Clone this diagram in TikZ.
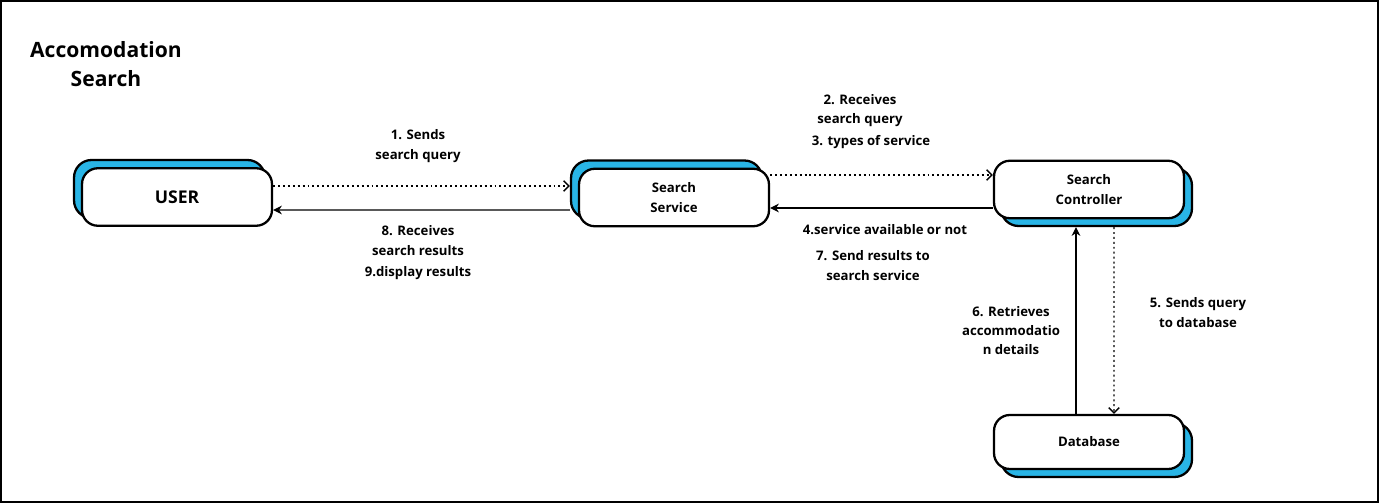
\documentclass[tikz,border=0pt]{standalone}
\usepackage{fontspec}
\setmainfont{Open Sans}
\usepackage{tikz}
\usetikzlibrary{positioning,arrows.meta,calc}
\definecolor{cblue}{HTML}{29B5E6}
\tikzset{
  bluebox/.style={draw=black, line width=1.3pt, fill=cblue, rounded corners=10pt,
    minimum width=3.82cm, minimum height=1.16cm, inner sep=0pt},
  whitebox/.style={draw=black, line width=1.3pt, fill=white, rounded corners=9pt,
    minimum width=3.8cm, minimum height=1.15cm, inner sep=0pt, align=center,
    font=\fontsize{7.5}{11}\selectfont\bfseries},
  steplabel/.style={align=center, font=\fontsize{7.5}{11}\selectfont\bfseries},
  dotflow/.style={line width=0.8pt, dash pattern=on 1.1pt off 1.7pt,
    -{Straight Barb[length=3pt,width=6pt,line width=0.8pt]}},
  solidflow/.style={line width=0.6pt, -{Stealth[length=5pt,width=5pt]}}
}

\begin{document}
\begin{tikzpicture}[x=0.02cm, y=-0.02cm]
    \useasboundingbox (0,0) rectangle (1379,503);
    \draw[line width=1.2pt] (1,1) rectangle (1378,502);

    \node[align=center, font=\fontsize{12}{16.5}\selectfont\bfseries] (title) at (106,64) {Accomodation\\Search};

    % shadow boxes
    \node[bluebox] (userbg) at (169.5,189) {};
    \node[bluebox] (servicebg) at (666.5,189.5) {};
    \node[bluebox] (controllerbg) at (1096.5,197) {};
    \node[bluebox, minimum height=1.08cm] (databasebg) at (1096.5,450) {};

    % main boxes
    \node[whitebox, font=\fontsize{10}{12}\selectfont\bfseries] (user) at (177,197) {USER};
    \node[whitebox] (service) at (674,197.5) {Search\\Service};
    \node[whitebox] (controller) at (1089,189.5) {Search\\Controller};
    \node[whitebox, minimum height=1.08cm] (database) at (1089,442) {Database};

    % flows
    \draw[dotflow] ($(user.east)+(0,-11)$) -- ($(servicebg.west)+(0,-3.5)$);
    \draw[solidflow] ($(servicebg.west)+(0,20.5)$) -- ($(user.east)+(0,13)$);
    \draw[dotflow] ($(service.east)+(0,-22.5)$) -- ($(controller.west)+(0,-14.5)$);
    \draw[solidflow] ($(controller.west)+(0,18.5)$) -- ($(service.east)+(0,10.5)$);
    \draw[solidflow] ($(database.north)+(-13,0)$) -- ($(controllerbg.south)+(-20.5,0)$);
    \draw[dotflow] ($(controllerbg.south)+(17.5,0)$) -- ($(database.north)+(25,0)$);

    % labels
    \node[steplabel] (l1) at (418,146) {1. Sends\\search query};
    \node[steplabel] (l8) at (418,240.5) {8. Receives\\search results};
    \node[steplabel] (l9) at (418,273) {9.display results};
    \node[steplabel] (l2) at (860,110.5) {2. Receives\\search query};
    \node[steplabel] (l3) at (871,142) {3. types of service};
    \node[steplabel] (l4) at (885,230) {4.service available or not};
    \node[steplabel] (l7) at (873,265.5) {7. Send results to\\search service};
    \node[steplabel] (l6) at (1011,330.5) {6. Retrieves\\accommodatio\\n details};
    \node[steplabel] (l5) at (1198,312.5) {5. Sends query\\to database};
  \end{tikzpicture}
\end{document}
